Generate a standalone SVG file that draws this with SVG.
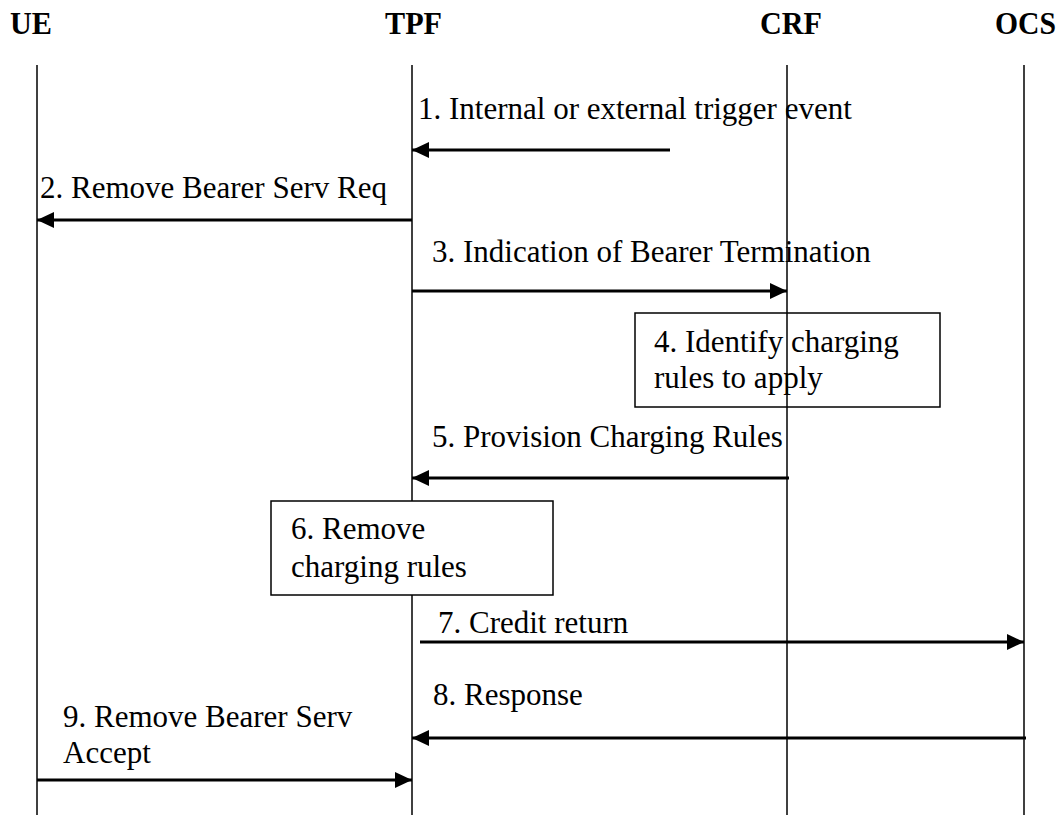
<svg xmlns="http://www.w3.org/2000/svg" width="1063" height="815" viewBox="0 0 1063 815">
<style>
text{font-family:"Liberation Serif","Times New Roman",serif;font-size:31px;fill:#000}
.hdr{font-weight:bold;font-size:32px}
.life{stroke:#000;stroke-width:1.5;fill:none}
.msg{stroke:#000;stroke-width:3;fill:none;marker-end:url(#ah)}
.box{stroke:#000;stroke-width:1.5}
</style>
<defs>
<marker id="ah" markerUnits="userSpaceOnUse" markerWidth="18" markerHeight="16" refX="17" refY="8" orient="auto">
<path d="M0,0 L17,8 L0,16 z" fill="#000"/>
</marker>
</defs>
<g id="UE">
<text class="hdr" x="10" y="34" textLength="42" lengthAdjust="spacingAndGlyphs">UE</text>
<line class="life" x1="37" y1="65" x2="37" y2="815"/>
</g>
<g id="TPF">
<text class="hdr" x="385" y="34" textLength="57" lengthAdjust="spacingAndGlyphs">TPF</text>
<line class="life" x1="412" y1="65" x2="412" y2="815"/>
</g>
<g id="CRF">
<text class="hdr" x="760" y="34" textLength="62" lengthAdjust="spacingAndGlyphs">CRF</text>
<line class="life" x1="787" y1="65" x2="787" y2="815"/>
</g>
<g id="OCS">
<text class="hdr" x="995" y="34" textLength="61" lengthAdjust="spacingAndGlyphs">OCS</text>
<line class="life" x1="1024" y1="65" x2="1024" y2="815"/>
</g>
<g id="step4">
<rect class="box" x="635" y="313" width="305" height="94" fill="none"/>
<text x="654" y="352">4. Identify charging</text>
<text x="654" y="388">rules to apply</text>
</g>
<g id="step6">
<rect class="box" x="271" y="501" width="282" height="94" fill="#fff"/>
<text x="291" y="539">6. Remove</text>
<text x="291" y="577">charging rules</text>
</g>
<g id="connectors">
<line class="msg" x1="670" y1="150" x2="412" y2="150"/>
<text x="418" y="119">1. Internal or external trigger event</text>
<line class="msg" x1="412" y1="220" x2="37" y2="220"/>
<text x="40" y="198">2. Remove Bearer Serv Req</text>
<line class="msg" x1="412" y1="291" x2="787" y2="291"/>
<text x="432" y="262">3. Indication of Bearer Termination</text>
<line class="msg" x1="789" y1="478" x2="412" y2="478"/>
<text x="432" y="447">5. Provision Charging Rules</text>
<line class="msg" x1="420" y1="642" x2="1024" y2="642"/>
<text x="438" y="633">7. Credit return</text>
<line class="msg" x1="1026" y1="738" x2="412" y2="738"/>
<text x="433" y="705">8. Response</text>
<line class="msg" x1="37" y1="780" x2="412" y2="780"/>
<text x="63" y="727">9. Remove Bearer Serv</text>
<text x="63" y="763">Accept</text>
</g>
</svg>
